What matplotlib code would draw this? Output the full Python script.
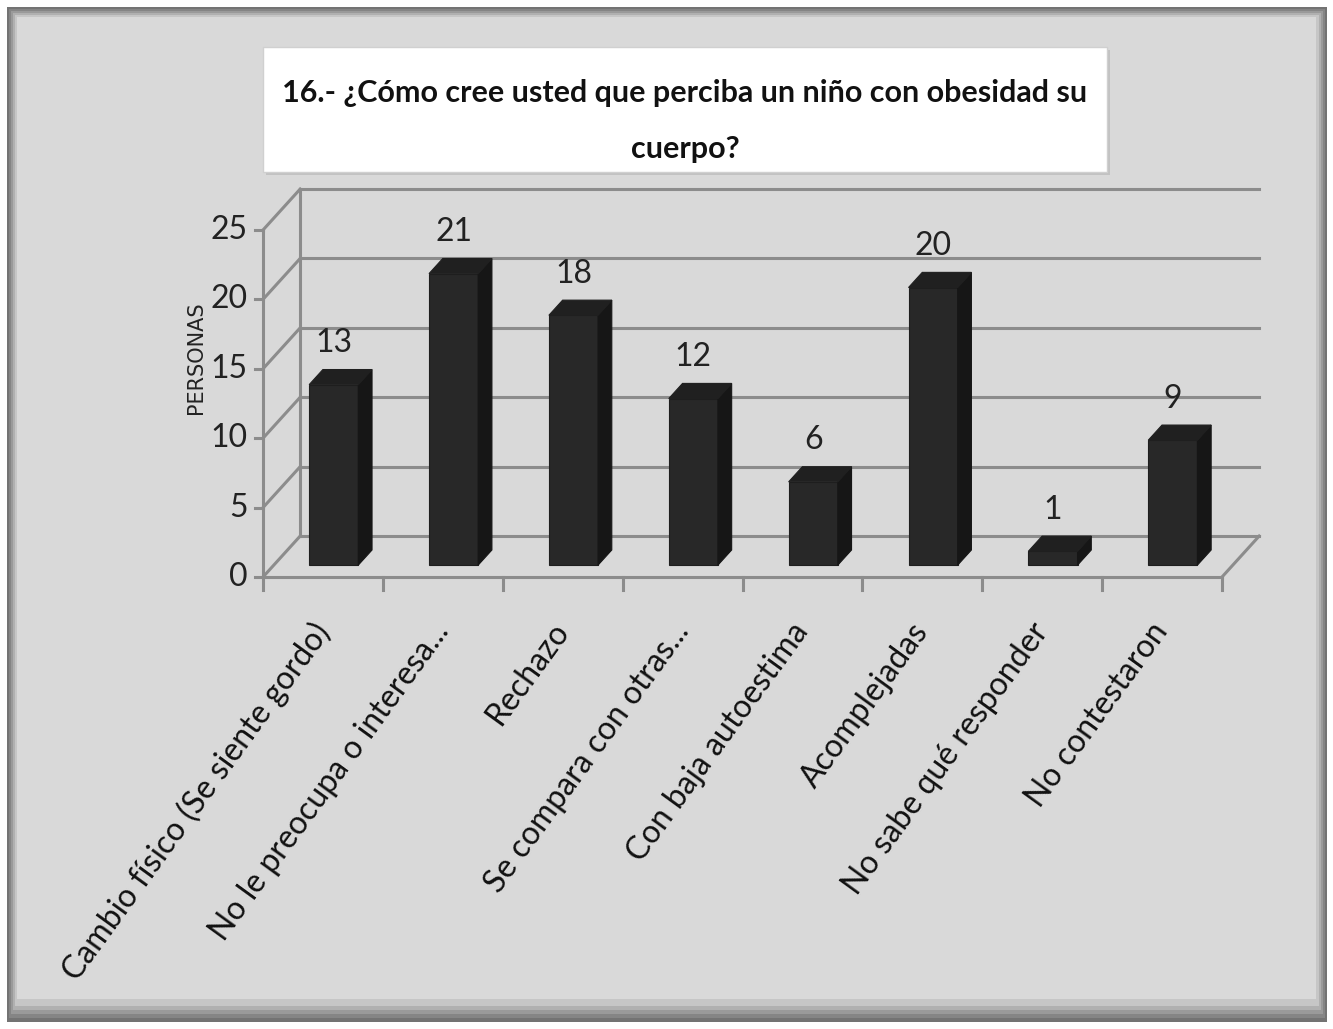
import matplotlib
matplotlib.use("Agg")
import matplotlib.pyplot as plt
from matplotlib.patches import Polygon, Rectangle
import numpy as np

categories = [
    "Cambio físico (Se siente gordo)",
    "No le preocupa o interesa...",
    "Rechazo",
    "Se compara con otras...",
    "Con baja autoestima",
    "Acomplejadas",
    "No sabe qué responder",
    "No contestaron",
]
values = [13, 21, 18, 12, 6, 20, 1, 9]
y_ticks = [0, 5, 10, 15, 20, 25]
title = "16.- ¿Cómo cree usted que perciba un niño con obesidad su\ncuerpo?"
ylabel = "PERSONAS"

BG = "#d9d9d9"
GRID = "#8c8c8c"
FONT = ["Lato", "DejaVu Sans"]

fig = plt.figure(figsize=(13.33, 10.29), dpi=100)
fig.patch.set_facecolor("white")

# outer frame with a soft shadow
frame = fig.add_axes([0, 0, 1, 1])
frame.set_xlim(0, 1333)
frame.set_ylim(1029, 0)
frame.axis("off")
for k, c in enumerate(["#737373", "#858585", "#9a9a9a", "#b0b0b0", "#c6c6c6"]):
    frame.add_patch(Rectangle((7 + k * 2, 7 + k * 2), 1320 - k * 4, 1015 - k * 6,
                              facecolor=c, edgecolor="none"))
frame.add_patch(Rectangle((17, 17), 1299, 982, facecolor=BG, edgecolor="none"))

# title box
frame.add_patch(Rectangle((266, 50), 844, 125, facecolor="#c2c2c2", edgecolor="none"))
frame.add_patch(Rectangle((263, 47), 844, 125, facecolor="white", edgecolor="#d0d0d0", lw=1))
frame.text(685, 121, title, ha="center", va="center", fontsize=22, fontweight="bold",
           family=FONT, linespacing=2.2, color="#111111")

# plot area in data units: x = category index, y = value
ax = fig.add_axes([263 / 1333, 1 - 577 / 1029, 959 / 1333, 347 / 1029])
n = len(categories)
ax.set_xlim(0, n)
ax.set_ylim(0, 25)
ax.axis("off")

ddx, ddy = 0.31, 2.95  # depth of the back wall
lw = 2.2

# walls, floor and gridlines
for v in y_ticks:
    ax.plot([0, ddx], [v, v + ddy], color=GRID, lw=lw, clip_on=False)
    ax.plot([ddx, n + ddx], [v + ddy, v + ddy], color=GRID, lw=lw, clip_on=False)
ax.plot([0, n], [0, 0], color=GRID, lw=lw, clip_on=False)
ax.plot([n, n + ddx], [0, ddy], color=GRID, lw=lw, clip_on=False)
ax.plot([0, 0], [0, 25], color=GRID, lw=lw, clip_on=False)
ax.plot([ddx, ddx], [ddy, 25 + ddy], color=GRID, lw=lw, clip_on=False)

# ticks
for v in y_ticks:
    ax.plot([-0.065, 0], [v, v], color=GRID, lw=lw, clip_on=False)
    ax.text(-0.13, v, str(v), ha="right", va="center", fontsize=23,
            family=FONT, color="#222222")
for i in range(n + 1):
    ax.plot([i, i], [0, -0.95], color=GRID, lw=lw, clip_on=False)

ax.text(-0.56, 15.8, ylabel, rotation=90, ha="center", va="center",
        fontsize=15, family=["DejaVu Sans"], color="#222222")

# 3d bars
f0, f1 = 0.29, 0.66
width = 0.41
for i, v in enumerate(values):
    x0 = i + 0.5 - width / 2 + f0 * ddx
    x1 = x0 + width
    yb = f0 * ddy
    yt = v + f0 * ddy
    sx = (f1 - f0) * ddx
    sy = (f1 - f0) * ddy
    front = Polygon([(x0, yb), (x1, yb), (x1, yt), (x0, yt)], closed=True,
                    facecolor="#282828", edgecolor="#1e1e1e", lw=0.8, zorder=3)
    side = Polygon([(x1, yb), (x1 + sx, yb + sy), (x1 + sx, yt + sy), (x1, yt)],
                   closed=True, facecolor="#161616", edgecolor="#161616", lw=0.8, zorder=3)
    top = Polygon([(x0, yt), (x0 + sx, yt + sy), (x1 + sx, yt + sy), (x1, yt)],
                  closed=True, facecolor="#202020", edgecolor="#202020", lw=0.8, zorder=3)
    for p in (front, side, top):
        p.set_clip_on(False)
        ax.add_patch(p)
    ax.text((x0 + x1) / 2, v + f1 * ddy + 1.9, str(v), ha="center", va="center",
            fontsize=23, family=FONT, color="#222222", zorder=4)

    ax.text(i + 0.40, -2.9, categories[i], rotation=54, rotation_mode="anchor",
            ha="right", va="top", fontsize=23, family=FONT, color="#111111")

fig.savefig("out.png", dpi=100, facecolor=fig.get_facecolor())
